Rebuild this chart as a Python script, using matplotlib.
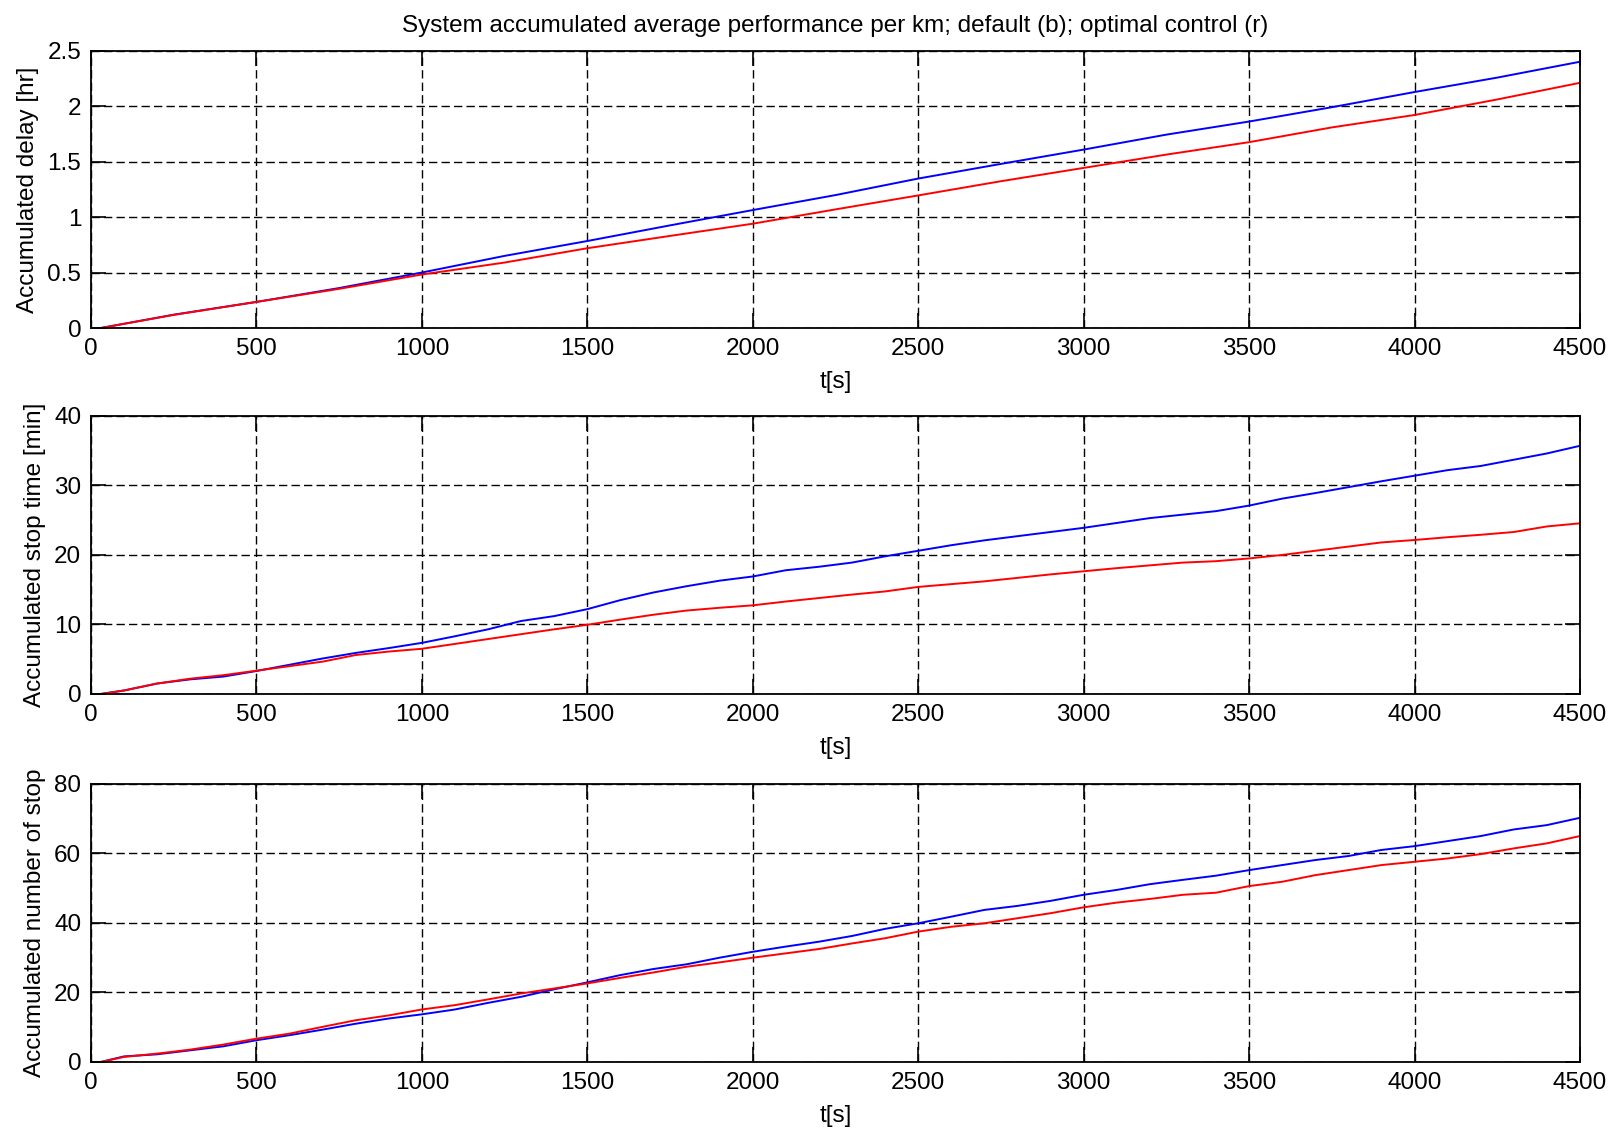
import matplotlib.pyplot as plt
import numpy as np

# values
delay_t = [30, 250, 500, 750, 1000, 1250, 1500, 1750, 2000, 2250, 2500,
           2750, 3000, 3250, 3500, 3750, 4000, 4250, 4500]
delay_default = [0, 0.12, 0.235, 0.36, 0.50, 0.65, 0.784, 0.925, 1.063, 1.198,
                 1.347, 1.479, 1.608, 1.743, 1.861, 1.99, 2.127, 2.257, 2.40]
delay_optimal = [0, 0.118, 0.235, 0.353, 0.482, 0.59, 0.719, 0.83, 0.94, 1.069,
                 1.195, 1.323, 1.443, 1.563, 1.675, 1.808, 1.92, 2.06, 2.21]

t = [30] + list(range(100, 4600, 100))

stop_default = [0, 0.5, 1.5, 2.1, 2.5, 3.3, 4.2, 5.1, 5.9, 6.6, 7.35,
                8.3, 9.3, 10.5, 11.2, 12.2, 13.5, 14.6, 15.5, 16.3, 16.9,
                17.8, 18.3, 18.9, 19.8, 20.6, 21.4, 22.1, 22.7, 23.3, 23.9,
                24.6, 25.3, 25.8, 26.3, 27.1, 28.1, 28.9, 29.75, 30.6, 31.4,
                32.2, 32.8, 33.7, 34.6, 35.7]
stop_optimal = [0, 0.5, 1.5, 2.2, 2.7, 3.35, 4.0, 4.65, 5.6, 6.1, 6.5,
                7.2, 7.9, 8.6, 9.3, 9.95, 10.7, 11.4, 12.0, 12.4, 12.75,
                13.3, 13.8, 14.3, 14.75, 15.4, 15.8, 16.2, 16.7, 17.2, 17.65,
                18.1, 18.5, 18.9, 19.1, 19.5, 20.0, 20.6, 21.2, 21.8, 22.15,
                22.55, 22.9, 23.3, 24.1, 24.55]

nstop_default = [0, 1.6, 2.2, 3.35, 4.5, 6.25, 7.7, 9.3, 11.0, 12.5, 13.7,
                 15.1, 17.0, 18.75, 20.9, 22.9, 25.0, 26.75, 28.1, 30.0, 31.7,
                 33.2, 34.6, 36.25, 38.3, 39.9, 41.8, 43.75, 44.9, 46.35, 48.1,
                 49.5, 51.15, 52.4, 53.6, 55.2, 56.65, 58.1, 59.25, 61.0, 62.1,
                 63.55, 65.0, 66.9, 68.15, 70.25]
nstop_optimal = [0, 1.45, 2.4, 3.55, 5.0, 6.7, 8.15, 10.1, 12.0, 13.4, 15.1,
                 16.35, 18.0, 19.7, 21.15, 22.6, 24.2, 25.75, 27.4, 28.65, 30.0,
                 31.25, 32.5, 34.1, 35.6, 37.5, 38.9, 39.9, 41.35, 42.8, 44.5,
                 45.85, 46.9, 48.1, 48.7, 50.6, 51.85, 53.75, 55.2, 56.65, 57.6,
                 58.55, 59.8, 61.45, 62.9, 65.0]

plt.rcParams['font.family'] = ['Liberation Sans', 'DejaVu Sans']
plt.rcParams['font.size'] = 17.5

fig = plt.figure(figsize=(16.18, 11.33), dpi=100)

left, width = 0.0562, 0.9203
boxes = [(0.7105, 0.2448), (0.3875, 0.2454), (0.0627, 0.2454)]

panels = [
    (delay_t, delay_default, delay_optimal, 'Accumulated delay [hr]', np.arange(0, 2.51, 0.5), ['0', '0.5', '1', '1.5', '2', '2.5']),
    (t, stop_default, stop_optimal, 'Accumulated stop time [min]', np.arange(0, 41, 10), None),
    (t, nstop_default, nstop_optimal, 'Accumulated number of stop', np.arange(0, 81, 20), None),
]

for (bottom, height), (x, yb, yr, ylab, yticks, ylabels) in zip(boxes, panels):
    ax = fig.add_axes([left, bottom, width, height])
    ax.plot(x, yb, color='#0000ff', lw=1.4)
    ax.plot(x, yr, color='#ff0000', lw=1.4)
    ax.set_xlim(0, 4500)
    ax.set_ylim(yticks[0], yticks[-1])
    ax.set_xticks(np.arange(0, 4501, 500))
    ax.set_yticks(yticks)
    if ylabels is not None:
        ax.set_yticklabels(ylabels)
    ax.grid(True, color='black', linestyle=(0, (6, 3)), linewidth=1.0)
    ax.tick_params(direction='in', length=11, width=1.2, top=True, right=True, pad=7)
    for sp in ax.spines.values():
        sp.set_linewidth(1.3)
    ax.set_xlabel('t[s]', labelpad=8)
    ax.set_ylabel(ylab, labelpad=6)
    if bottom > 0.7:
        ax.set_title('System accumulated average performance per km; default (b); optimal control (r)',
                     fontsize=17.5, pad=13.5)

fig.savefig('out.png', dpi=100)
